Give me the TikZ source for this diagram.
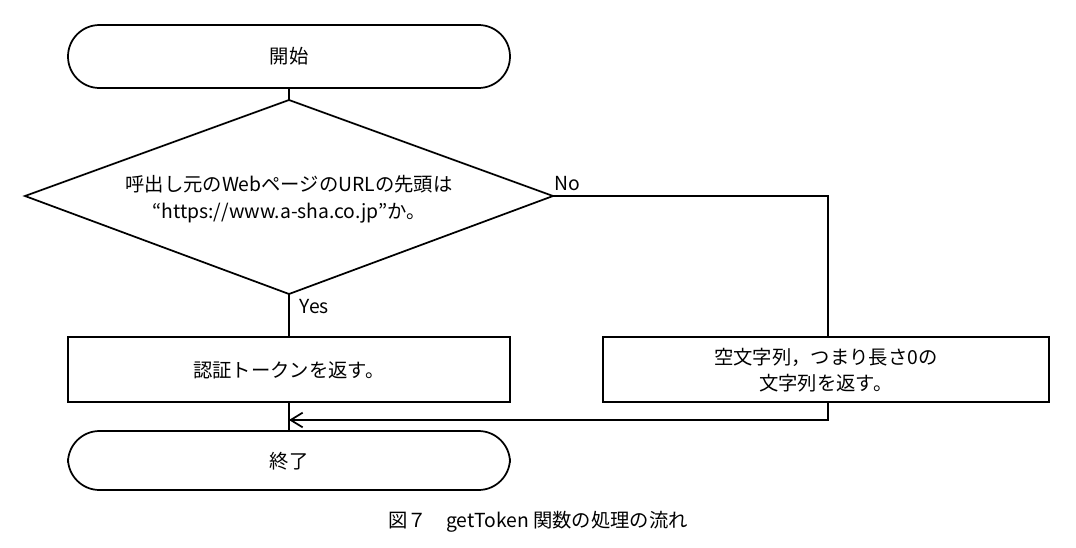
\documentclass[tikz,border=0pt]{standalone}
\usepackage{fontspec}
\setmainfont{Noto Sans CJK JP}
\usetikzlibrary{arrows.meta}
\begin{document}
\begin{tikzpicture}[x=0.75pt,y=-0.75pt,
  line/.style={line width=1.3pt,black},
  term/.style={line,rounded corners=31.5*0.75pt},
  lbl/.style={font=\fontsize{14.5}{20}\selectfont,align=center}]
\useasboundingbox (0,0) rectangle (1076,547);
\draw[term] (68,25) rectangle (510,88);
\node[lbl] (start) at (289,56) {開始};
\draw[line] (68,337) rectangle (510,402);
\node[lbl] (auth) at (289,370) {認証トークンを返す。};
\draw[line] (603,337) rectangle (1049,402);
\node[lbl] (empty) at (826,370) {空文字列，つまり長さ0の\\文字列を返す。};
\draw[line] (289,100) -- (553,196) -- (289,294) -- (25,196) -- cycle;
\node[lbl] (cond) at (289,199) {呼出し元のWebページのURLの先頭は\\“https://www.a-sha.co.jp”か。};
\draw[term] (68,431) rectangle (510,490);
\node[lbl] (end) at (289,461) {終了};
\coordinate (st) at (289,88); \coordinate (dt) at (289,100);
\coordinate (dr) at (553,196); \coordinate (cr) at (828,196);
\coordinate (rb) at (828,337); \coordinate (db) at (289,294);
\coordinate (lb) at (289,337); \coordinate (lbb) at (289,402);
\coordinate (et) at (289,431); \coordinate (rbb) at (828,402);
\coordinate (j1) at (828,420); \coordinate (j2) at (289,420);
\draw[line] (st) -- (dt);
\draw[line] (dr) -- (cr) -- (rb);
\draw[line] (db) -- (lb);
\draw[line] (lbb) -- (et);
\draw[line,-{Straight Barb[length=9pt,width=11pt,line width=1.3pt]}] (rbb) -- (j1) -- (j2);
\node[lbl,anchor=west] (no) at (550,184) {No};
\node[lbl,anchor=west] (yes) at (295,307) {Yes};
\node[lbl] (cap) at (538,522) {図７\quad getToken 関数の処理の流れ};
\end{tikzpicture}
\end{document}
